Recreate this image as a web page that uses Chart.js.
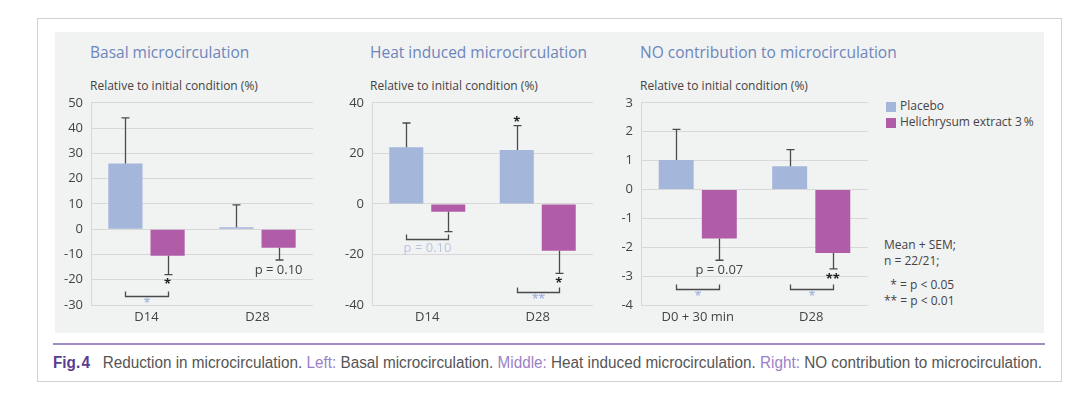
<!DOCTYPE html>
<html>
<head>
<meta charset="utf-8">
<script src="https://cdn.jsdelivr.net/npm/chart.js@4.4.1/dist/chart.umd.min.js"></script>
<style>
  html, body { margin: 0; padding: 0; background: #ffffff; }
  body { width: 1080px; height: 395px; position: relative; overflow: hidden; font-family: "Open Sans", "DejaVu Sans", sans-serif; }
  #frame { position: absolute; left: 37px; top: 18px; width: 1025px; height: 364px; box-sizing: border-box; border: 1px solid #d2d2d2; background: #fff; }
  #panel { position: absolute; left: 55px; top: 32px; width: 989px; height: 301px; background: #f1f2f2; }
  .title { position: absolute; font-size: 15.5px; color: #6d86bb; white-space: nowrap; line-height: 1; }
  .sub { position: absolute; font-size: 12px; color: #444; white-space: nowrap; line-height: 1; }
  .cv { position: absolute; }
  .leg { position: absolute; font-size: 12px; color: #444; white-space: nowrap; line-height: 1; }
  .sw { position: absolute; width: 10px; height: 10px; }
  #rule { position: absolute; left: 53px; top: 343px; width: 992px; height: 2px; background: #a08cc6; }
  #cap { position: absolute; left: 53px; top: 355px; font-family: "Liberation Sans Narrow", "Liberation Sans", sans-serif; font-size: 16px; color: #555; white-space: nowrap; line-height: 1; transform-origin: 0 0; transform: scaleX(0.955); }
  #cap b { color: #5a3d91; font-weight: bold; }
  #cap .k { color: #9b7fc6; }
</style>
</head>
<body>
<div id="frame"></div>
<div id="panel"></div>

<div class="title" style="left:90px; top:45px;">Basal microcirculation</div>
<div class="sub" style="left:90px; top:80px;">Relative to initial condition (%)</div>
<div class="title" style="left:370px; top:45px;">Heat induced microcirculation</div>
<div class="sub" style="left:370px; top:80px;">Relative to initial condition (%)</div>
<div class="title" style="left:640px; top:45px;">NO contribution to microcirculation</div>
<div class="sub" style="left:640px; top:80px;">Relative to initial condition (%)</div>

<canvas id="c1" class="cv" width="265" height="243" style="left:55px; top:87px;"></canvas>
<canvas id="c2" class="cv" width="270" height="243" style="left:330px; top:87px;"></canvas>
<canvas id="c3" class="cv" width="280" height="243" style="left:600px; top:87px;"></canvas>

<div class="sw" style="left:886px; top:102px; background:#a4b6da;"></div>
<div class="leg" style="left:900px; top:100px;">Placebo</div>
<div class="sw" style="left:886px; top:118px; background:#b05ca8;"></div>
<div class="leg" style="left:900px; top:116px;">Helichrysum extract 3&#8201;%</div>

<div class="leg" style="left:884px; top:239px;">Mean + SEM;</div>
<div class="leg" style="left:884px; top:255px;">n = 22/21;</div>
<div class="leg" style="left:884px; top:279px;">&nbsp;&nbsp;* = p &lt; 0.05</div>
<div class="leg" style="left:884px; top:295px;">** = p &lt; 0.01</div>

<div id="rule"></div>
<div id="cap"><b>Fig.&#8202;4</b>&nbsp;&nbsp;&nbsp;Reduction in microcirculation. <span class="k">Left:</span> Basal microcirculation. <span class="k">Middle:</span> Heat induced microcirculation. <span class="k">Right:</span> NO contribution to microcirculation.</div>

<script>
// ---------- data ----------
const seriesNames = ['Placebo', 'Helichrysum extract 3 %'];

const categories1 = ['D14', 'D28'];
const placebo1 = [26, 0.8];
const placeboErr1 = [44, 9.6];
const heli1 = [-10.5, -7.3];
const heliErr1 = [-18, -12.2];

const categories2 = ['D14', 'D28'];
const placebo2 = [22.4, 21.3];
const placeboErr2 = [32, 31];
const heli2 = [-3.1, -18.5];
const heliErr2 = [-11, -27.5];

const categories3 = ['D0 + 30 min', 'D28'];
const placebo3 = [1.02, 0.8];
const placeboErr3 = [2.08, 1.38];
const heli3 = [-1.7, -2.2];
const heliErr3 = [-2.45, -2.75];

const yTicks1 = { min: -30, max: 50, step: 10 };
const yTicks2 = { min: -40, max: 40, step: 20 };
const yTicks3 = { min: -4, max: 3, step: 1 };

// ---------- styles ----------
const COL_PLACEBO = '#a4b6da';
const COL_HELI = '#b05ca8';
const COL_GRID = '#d8d8d8';
const COL_TEXT = '#444444';
const COL_LIGHT = '#a9b8de';
const FONT = '"Open Sans", "DejaVu Sans", sans-serif';

const annotPlugin = {
  id: 'annot',
  afterDatasetsDraw(chart, args, opts) {
    const ctx = chart.ctx;
    const ys = chart.scales.y;
    ctx.save();
    (opts.errors || []).forEach((errs, di) => {
      const meta = chart.getDatasetMeta(di);
      meta.data.forEach((bar, i) => {
        const x = Math.round(bar.x) + 0.5;
        const y0 = bar.y;
        const y1 = ys.getPixelForValue(errs[i]);
        ctx.strokeStyle = '#4a4a4a';
        ctx.lineWidth = 1.3;
        ctx.beginPath();
        ctx.moveTo(x, y0);
        ctx.lineTo(x, y1);
        ctx.moveTo(x - 4, y1);
        ctx.lineTo(x + 4, y1);
        ctx.stroke();
      });
    });
    (opts.marks || []).forEach(m => {
      const bar = chart.getDatasetMeta(m.ds).data[m.i];
      const errs = opts.errors[m.ds];
      const yEnd = ys.getPixelForValue(errs[m.i]);
      ctx.fillStyle = '#222';
      ctx.textAlign = 'center';
      ctx.textBaseline = 'middle';
      if (m.text.startsWith('p')) {
        ctx.font = '13px ' + FONT;
        ctx.fillStyle = COL_TEXT;
        ctx.fillText(m.text, bar.x, yEnd + 10);
      } else {
        ctx.font = 'bold 13px ' + FONT;
        if (m.where === 'above') ctx.fillText(m.text, bar.x, yEnd - 3);
        else ctx.fillText(m.text, bar.x, yEnd + 10);
      }
    });
    (opts.brackets || []).forEach(b => {
      const a = chart.getDatasetMeta(0).data[b.i];
      const c = chart.getDatasetMeta(1).data[b.i];
      const y = Math.round(ys.getPixelForValue(b.level)) + 0.5;
      const xa = Math.round(a.x) + 0.5, xc = Math.round(c.x) + 0.5;
      ctx.strokeStyle = '#4a4a4a';
      ctx.lineWidth = 1.3;
      ctx.beginPath();
      ctx.moveTo(xa, y - 5);
      ctx.lineTo(xa, y);
      ctx.lineTo(xc, y);
      ctx.lineTo(xc, y - 5);
      ctx.stroke();
      ctx.fillStyle = b.color || COL_LIGHT;
      ctx.textAlign = 'center';
      ctx.textBaseline = 'middle';
      if (b.text.startsWith('p')) {
        ctx.font = '13px ' + FONT;
        ctx.fillText(b.text, (xa + xc) / 2, y + 9);
      } else {
        ctx.font = 'bold 12px ' + FONT;
        ctx.fillText(b.text, (xa + xc) / 2, y + 7);
      }
    });
    ctx.restore();
  }
};

function makeChart(id, cats, p, pe, h, he, yt, yWidth, padRight, annot) {
  return new Chart(document.getElementById(id), {
    type: 'bar',
    data: {
      labels: cats,
      datasets: [
        { label: seriesNames[0], data: p, backgroundColor: COL_PLACEBO, categoryPercentage: 0.76, barPercentage: 0.81 },
        { label: seriesNames[1], data: h, backgroundColor: COL_HELI, categoryPercentage: 0.76, barPercentage: 0.81 }
      ]
    },
    options: {
      responsive: false,
      animation: false,
      devicePixelRatio: 1,
      layout: { padding: { top: 6, right: padRight, left: 0, bottom: 0 } },
      plugins: {
        legend: { display: false },
        tooltip: { enabled: false },
        annot: Object.assign({ errors: [pe, he] }, annot)
      },
      scales: {
        x: {
          grid: { display: false, drawTicks: false },
          border: { display: false },
          ticks: { color: COL_TEXT, font: { family: FONT, size: 13 }, padding: 4, maxRotation: 0 },
          afterFit(s) { s.height = 25; }
        },
        y: {
          min: yt.min, max: yt.max,
          grid: { color: COL_GRID, lineWidth: 1, drawTicks: false },
          border: { display: true, color: COL_GRID },
          ticks: { stepSize: yt.step, color: COL_TEXT, font: { family: FONT, size: 13 }, padding: 8 },
          afterFit(s) { s.width = yWidth; }
        }
      }
    },
    plugins: [annotPlugin]
  });
}

makeChart('c1', categories1, placebo1, placeboErr1, heli1, heliErr1, yTicks1, 36, 7, {
  marks: [ { ds: 1, i: 0, text: '*', where: 'below' }, { ds: 1, i: 1, text: 'p = 0.10' } ],
  brackets: [ { i: 0, level: -26.3, text: '*' } ]
});
makeChart('c2', categories2, placebo2, placeboErr2, heli2, heliErr2, yTicks2, 42, 7, {
  marks: [ { ds: 0, i: 1, text: '*', where: 'above' }, { ds: 1, i: 1, text: '*', where: 'below' } ],
  brackets: [ { i: 0, level: -14, text: 'p = 0.10', color: '#b9c4e0' }, { i: 1, level: -35, text: '**' } ]
});
makeChart('c3', categories3, placebo3, placeboErr3, heli3, heliErr3, yTicks3, 41, 12, {
  marks: [ { ds: 1, i: 0, text: 'p = 0.07' }, { ds: 1, i: 1, text: '**', where: 'below' } ],
  brackets: [ { i: 0, level: -3.45, text: '*' }, { i: 1, level: -3.45, text: '*' } ]
});
</script>
</body>
</html>
